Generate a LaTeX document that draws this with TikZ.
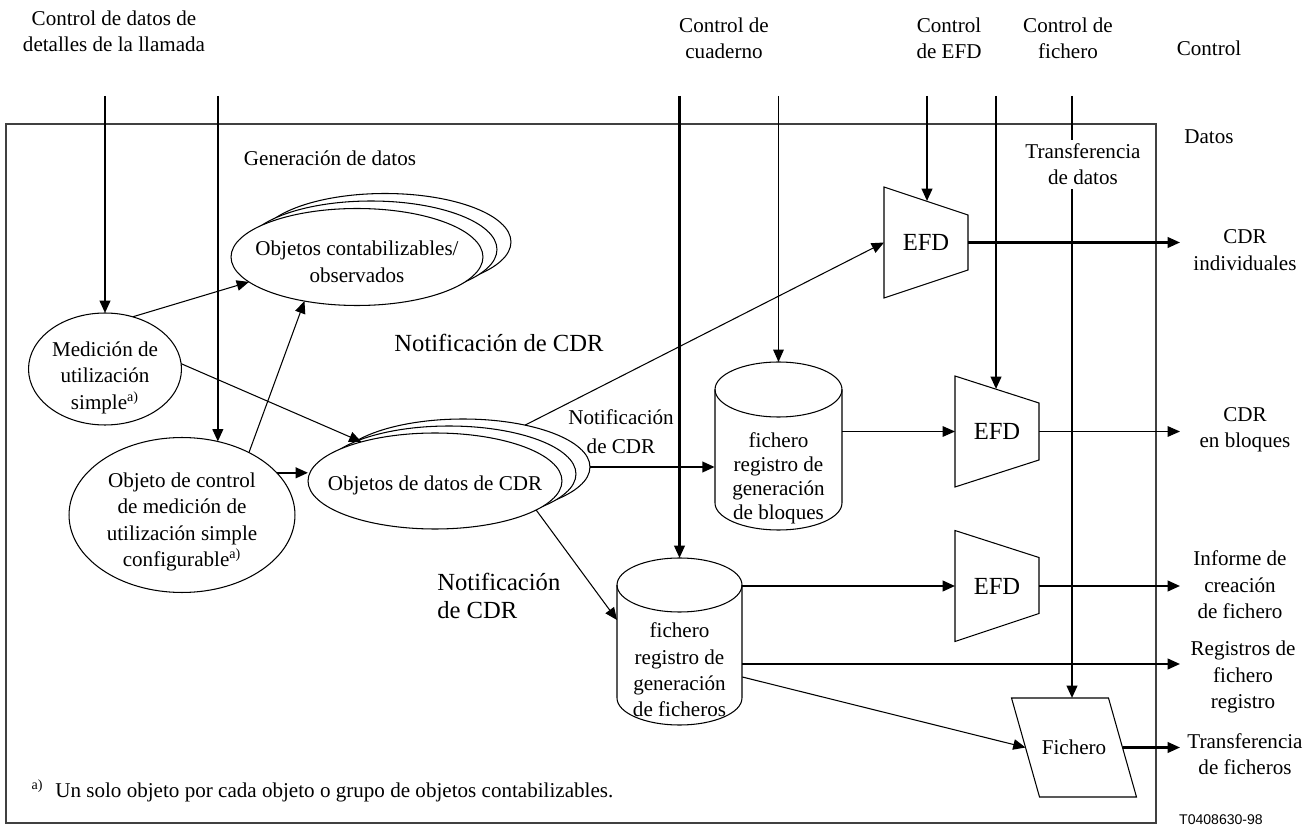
\documentclass[tikz,border=0pt]{standalone}
\usepackage{fontspec}
\setmainfont{Liberation Serif}
\setsansfont{Liberation Sans}
\usetikzlibrary{arrows.meta,shapes.geometric,calc}

% text set in a box of no size, so that the ellipse keeps its own size
\newcommand{\etxt}[2][0pt]{\makebox[0pt]{\smash{\raisebox{#1}{\begin{tabular}{@{}c@{}}#2\end{tabular}}}}}

\tikzset{
	txt/.style={font=\fontsize{12}{15}\selectfont, align=center, inner sep=0pt},
	big/.style={font=\fontsize{14}{16}\selectfont, align=left, inner sep=0pt},
	ln/.style={line width=0.6pt},
	thk/.style={line width=1.2pt},
	arr/.style={ln, -{Triangle[length=7pt,width=6pt]}},
	tarr/.style={thk, -{Triangle[length=7pt,width=6pt]}},
	obj/.style={ellipse, draw, ln, fill=white, inner sep=0pt, outer sep=0pt, font=\fontsize{12}{15}\selectfont},
	objA/.style={obj, minimum width=5.04cm, minimum height=1.94cm},
	objB/.style={obj, minimum width=5.08cm, minimum height=1.92cm},
	efd/.style={inner sep=0pt, outer sep=0pt, minimum width=1.68cm, minimum height=2.22cm, font=\fontsize{14}{16}\selectfont}
}

\begin{document}
\begin{tikzpicture}[x=0.02cm, y=-0.02cm]
	\useasboundingbox (0,0) rectangle (1316,827);
	\draw[ln, black!75] (6,124) rectangle (1156,823);
	
	\coordinate (top) at (0,96);
	\coordinate (tip) at (1180,0);
	
	% labels above and at the side
	\node[txt] (lCall) at (114,31) {Control de datos de\\detalles de la llamada};
	\node[txt] (lCuad) at (724,38) {Control de\\cuaderno};
	\node[txt] (lEfd) at (949,38) {Control\\de EFD};
	\node[txt] (lFich) at (1068,38) {Control de\\fichero};
	\node[txt] (lControl) at (1209,48) {Control};
	\node[txt] (lDatos) at (1209,137) {Datos};
	\node[txt] (lTdat) at (1083,164) {Transferencia\\de datos};
	\node[txt] (lGen) at (330,158) {Generación de datos};
	\node[big] (lNot1) at (499,343) {Notificación de CDR};
	\node[txt, font=\fontsize{12}{16.4}\selectfont] (lNot2) at (621,432) {Notificación\\de CDR};
	\node[big, anchor=west] (lNot3) at (437,596) {Notificación\\de CDR};
	
	\node[txt] (lCdrI) at (1245,250) {CDR\\individuales};
	\node[txt] (lCdrB) at (1245,430) {CDR\\en bloques};
	\node[txt] (lInf) at (1240,585) {Informe de\\creación\\de fichero};
	\node[txt] (lReg) at (1243,677) {Registros de\\fichero\\registro};
	\node[txt] (lTrf) at (1245,754) {Transferencia\\de ficheros};
	
	\node[font=\fontsize{8}{9}\selectfont, inner sep=0pt] (fMark) at (37,786) {a)};
	\node[txt, anchor=west] (fNote) at (55,792) {Un solo objeto por cada objeto o grupo de objetos contabilizables.};
	\node[font=\sffamily\fontsize{8}{9}\selectfont, inner sep=0pt] (fig) at (1221,820) {T0408630-98};
	
	% objects
	\node[obj, minimum width=3.06cm, minimum height=2.24cm] (medi) at (105,369) {\etxt[-0.28cm]{Medición de\\utilización\\simple\textsuperscript{a)}}};
	\node[obj, minimum width=4.52cm, minimum height=3.1cm] (objCtl) at (182,515) {\etxt[-0.24cm]{Objeto de control\\de medición de\\utilización simple\\configurable\textsuperscript{a)}}};
	
	\node[objA] (objCont3) at (385,242) {};
	\node[objA] (objCont2) at (371,249.5) {};
	\node[objA] (objCont) at (357,257) {\etxt[-0.24cm]{Objetos contabilizables/\\observados}};
	
	\node[objB] (objD3) at (463,467) {};
	\node[objB] (objD2) at (449,474) {};
	\node[objB] (objD) at (435,481) {\etxt[-0.2cm]{Objetos de datos de CDR}};
	
	% cylinders
	\draw[ln] (778.5,389.5) ellipse [x radius=1.27cm, y radius=0.55cm];
	\draw[ln] (715,389.5) -- (715,503) arc[start angle=180, end angle=360, x radius=1.27cm, y radius=0.54cm] -- (842,389.5);
	\node[txt, font=\fontsize{12}{13.7}\selectfont, minimum width=2.54cm] (cylA) at (778.5,478) {fichero\\registro de\\generación\\de bloques};
	\coordinate (cylAtop) at (778.5,362);
	
	\draw[ln] (679.5,585) ellipse [x radius=1.25cm, y radius=0.54cm];
	\draw[ln] (617,585) -- (617,698) arc[start angle=180, end angle=360, x radius=1.25cm, y radius=0.54cm] -- (742,585);
	\node[txt, minimum width=2.5cm] (cylB) at (679.5,670) {fichero\\registro de\\generación\\de ficheros};
	\coordinate (cylBtop) at (679.5,558);
	\coordinate (cylBin) at (617,620);
	
	% EFD and fichero
	\node[efd] (efdA) at (926,242.5) {EFD};
	\draw[ln] (efdA.north west) -- ($(efdA.north east)+(0,28)$) -- ($(efdA.south east)+(0,-28)$) -- (efdA.south west) -- cycle;
	\node[efd] (efdB) at (997,431.5) {EFD};
	\draw[ln] (efdB.north west) -- ($(efdB.north east)+(0,27)$) -- ($(efdB.south east)+(0,-27)$) -- (efdB.south west) -- cycle;
	\node[efd] (efdC) at (997,586) {EFD};
	\draw[ln] (efdC.north west) -- ($(efdC.north east)+(0,27)$) -- ($(efdC.south east)+(0,-28)$) -- (efdC.south west) -- cycle;
	
	\node[txt, minimum width=1.94cm, minimum height=1.98cm, outer sep=0pt] (fich) at (1074,747.5) {Fichero};
	\draw[ln] ($(fich.north west)+(-14,0)$) -- ($(fich.north east)+(-14,0)$) -- ($(fich.south east)+(14,0)$) -- ($(fich.south west)+(14,0)$) -- cycle;
	
	\coordinate (efdAin) at ($(efdA.north west)+(43,14)$);
	\coordinate (efdBin) at ($(efdB.north west)+(41,13)$);
	\coordinate (fichIn) at (1072,698);
	\coordinate (regRow) at (0,664);
	
	% control lines
	\draw[tarr] (medi.north |- top) -- (medi.north);
	\draw[tarr] (objCtl.64 |- top) -- (objCtl.64);
	\draw[tarr] (cylBtop |- top) -- (cylBtop);
	\draw[arr] (cylAtop |- top) -- (cylAtop);
	\draw[tarr] (efdAin |- top) -- (efdAin);
	\draw[tarr] (efdBin |- top) -- (efdBin);
	\draw[thk] (fichIn |- top) -- ($(fichIn |- lTdat.north)+(0,-3)$);
	\draw[tarr] ($(fichIn |- lTdat.south)+(0,4)$) -- (fichIn);
	
	% data flow
	\draw[arr] (medi.62) -- (objCont.193);
	\draw[arr] (medi.4) -- (objD.152);
	\draw[arr] (objCtl.43) -- (objCont.220);
	\draw[tarr] (objCtl.24) -- (objCtl.24 -| objD.west);
	\draw[arr] (objD3.34) -- (efdA.west);
	\draw[tarr] (objD3.east) -- (objD3.east -| cylA.west);
	\draw[arr] (objD.344) -- (cylBin);
	\draw[arr] (efdB.west -| cylA.east) -- (efdB.west);
	\draw[tarr] (efdC.west -| cylB.east) -- (efdC.west);
	\draw[arr] ($(cylB.east)+(0,7)$) -- (fich.west);
	
	\draw[tarr] (efdA.east) -- (efdA.east -| tip);
	\draw[arr] (efdB.east) -- (efdB.east -| tip);
	\draw[tarr] (efdC.east) -- (efdC.east -| tip);
	\draw[tarr] (cylB.east |- regRow) -- (tip |- regRow);
	\draw[tarr] (fich.east) -- (fich.east -| tip);
\end{tikzpicture}
\end{document}
